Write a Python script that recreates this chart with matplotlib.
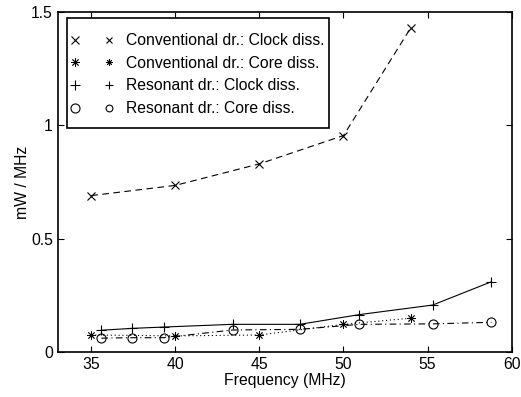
import matplotlib
matplotlib.use("Agg")
import matplotlib.pyplot as plt
from matplotlib.lines import Line2D
from matplotlib.patches import Rectangle
from matplotlib.legend_handler import HandlerTuple

plt.rcParams['font.family'] = ['Liberation Sans', 'DejaVu Sans']

# Conventional driver
conv_freq = [35, 40, 45, 50, 54]
conv_clock = [0.69, 0.735, 0.83, 0.955, 1.43]
conv_core = [0.075, 0.071, 0.075, 0.122, 0.149]

# Resonant driver
res_freq = [35.6, 37.4, 39.3, 43.4, 47.4, 50.95, 55.3, 58.8]
res_clock = [0.096, 0.104, 0.11, 0.122, 0.122, 0.165, 0.207, 0.31]
res_core = [0.061, 0.063, 0.063, 0.097, 0.10, 0.122, 0.124, 0.131]

labels = ["Conventional dr.: Clock diss.", "Conventional dr.: Core diss.",
          "Resonant dr.: Clock diss.", "Resonant dr.: Core diss."]

FS = 11.3
fig = plt.figure(figsize=(5.21, 3.97), dpi=100)
ax = fig.add_axes([0.1107, 0.1134, 0.8713, 0.8564])

star = (8, 2, 0)
styles = [
    dict(marker='x', ms=5.5, mew=0.8),
    dict(marker=star, ms=6, mew=0.6),
    dict(marker='+', ms=7, mew=0.8),
    dict(marker='o', ms=6.5, mew=0.8, mfc='none'),
]
ax.plot(conv_freq, conv_clock, color='k', ls=(0, (6, 4)), lw=0.8, **styles[0])
ax.plot(conv_freq, conv_core, color='k', ls=(0, (1, 2.5)), lw=0.8, **styles[1])
ax.plot(res_freq, res_clock, color='k', ls='-', lw=0.8, **styles[2])
ax.plot(res_freq, res_core, color='k', ls=(0, (6, 3, 1, 3)), lw=0.8, **styles[3])

ax.set_xlim(33, 60)
ax.set_ylim(0, 1.5)
ax.set_xticks([35, 40, 45, 50, 55, 60])
ax.set_yticks([0, 0.5, 1, 1.5])
ax.set_yticklabels(["0", "0.5", "1", "1.5"])
ax.tick_params(direction='in', top=True, right=True, labelsize=FS,
               length=4, width=0.8)
for s in ax.spines.values():
    s.set_linewidth(1.2)

ax.set_xlabel("Frequency (MHz)", fontsize=FS, labelpad=1)
ax.set_ylabel("mW / MHz", fontsize=FS, labelpad=1)

# legend: a big marker, then a small one, like the original figure
handles = []
for st in styles:
    big = Line2D([], [], color='k', ls='none', **st)
    small_st = dict(st)
    small_st['ms'] = st['ms'] * 0.75
    small = Line2D([], [], color='k', ls='none', **small_st)
    handles.append((big, small))

box = Rectangle((0.0211, 0.658), 0.5764, 0.3235, transform=ax.transAxes,
                facecolor='white', edgecolor='k', lw=1.2, zorder=4)
ax.add_patch(box)
leg = ax.legend(handles, labels, loc='upper left', numpoints=1,
                handler_map={tuple: HandlerTuple(ndivide=None, pad=1.66)},
                handlelength=2.68, handletextpad=0.8, fontsize=FS,
                frameon=False, borderpad=0, labelspacing=0.48,
                bbox_to_anchor=(0.0293, 0.937), borderaxespad=0)
leg.set_zorder(5)

fig.savefig("out.png", dpi=100)
